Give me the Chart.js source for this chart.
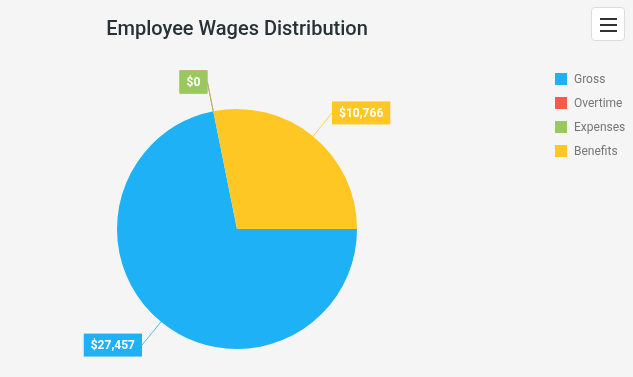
<!DOCTYPE html>
<html lang="en">
<head>
  <meta charset="UTF-8" />
  <title>Employee Wages Distribution</title>
  <script src="https://cdn.jsdelivr.net/npm/chart.js"></script>
  <style>
    body {
      margin: 0;
      padding: 0;
      background-color: #f5f5f5;
      font-family: Roboto, Arial, sans-serif;
    }

    .wrap {
      position: relative;
      width: 633px;
      height: 377px;
      overflow: hidden;
    }

    .title {
      position: absolute;
      left: 0;
      width: 474px;
      top: 14px;
      text-align: center;
      font-size: 20px;
      font-weight: 500;
      color: #263238;
      line-height: 28px;
    }

    .menu-btn {
      position: absolute;
      left: 591px;
      top: 7px;
      width: 34px;
      height: 34px;
      background: #fff;
      border: 1px solid #dcdcdc;
      border-radius: 4px;
      box-sizing: border-box;
    }

    .menu-btn span {
      position: absolute;
      left: 8px;
      width: 17px;
      height: 2px;
      background: #333;
    }

    .legend {
      position: absolute;
      left: 555px;
      top: 73px;
      font-size: 12px;
      color: #777;
    }

    .legend-item {
      display: flex;
      align-items: center;
      height: 12px;
      margin-bottom: 12px;
    }

    .legend-item i {
      display: inline-block;
      width: 12px;
      height: 12px;
      margin-right: 7px;
    }

    canvas {
      position: absolute;
      left: 0;
      top: 0;
    }
  </style>
</head>
<body>
  <div class="wrap">
    <canvas id="wagesChart" width="633" height="377"></canvas>
    <div class="title">Employee Wages Distribution</div>
    <div class="menu-btn"><span style="top:10px"></span><span style="top:16px"></span><span style="top:22px"></span></div>
    <div class="legend" id="legend"></div>
  </div>

  <script>
    const categories = ['Gross', 'Overtime', 'Expenses', 'Benefits'];
    const wages = [27457, 0, 0, 10766];
    const colors = ['#1eb1f6', '#f65a4b', '#99c95c', '#ffc724'];

    // legend built from the same arrays
    const legendEl = document.getElementById('legend');
    categories.forEach((name, i) => {
      const row = document.createElement('div');
      row.className = 'legend-item';
      row.innerHTML = '<i style="background:' + colors[i] + '"></i>' + name;
      legendEl.appendChild(row);
    });

    const fmt = v => '$' + v.toLocaleString('en-US');

    // boxed value labels with a leader line
    const boxLabels = {
      id: 'boxLabels',
      afterDatasetsDraw(chart) {
        const ctx = chart.ctx;
        const meta = chart.getDatasetMeta(0);
        ctx.save();
        ctx.font = 'bold 12px Roboto, Arial, sans-serif';
        ctx.textBaseline = 'middle';
        ctx.textAlign = 'center';
        meta.data.forEach((arc, i) => {
          const mid = (arc.startAngle + arc.endAngle) / 2;
          const r = arc.outerRadius;
          const x0 = arc.x + Math.cos(mid) * r;
          const y0 = arc.y + Math.sin(mid) * r;
          const x1 = arc.x + Math.cos(mid) * (r + 30);
          const y1 = arc.y + Math.sin(mid) * (r + 30);
          const text = fmt(wages[i]);
          const w = ctx.measureText(text).width + 14;
          const h = 23;
          const right = Math.cos(mid) >= 0;
          const bx = right ? x1 : x1 - w;
          const by = y1 - h / 2;

          ctx.strokeStyle = colors[i];
          ctx.globalAlpha = 0.8;
          ctx.lineWidth = 1;
          ctx.beginPath();
          ctx.moveTo(x0, y0);
          ctx.lineTo(x1, y1);
          ctx.stroke();
          ctx.globalAlpha = 1;

          ctx.fillStyle = colors[i];
          ctx.fillRect(bx, by, w, h);
          ctx.fillStyle = '#fff';
          ctx.fillText(text, bx + w / 2, y1 + 1);
        });
        ctx.restore();
      }
    };

    const ctx = document.getElementById('wagesChart').getContext('2d');
    const chart = new Chart(ctx, {
      type: 'pie',
      data: {
        labels: categories,
        datasets: [{
          data: wages,
          backgroundColor: colors,
          borderWidth: 0
        }]
      },
      options: {
        responsive: false,
        animation: false,
        rotation: 90,
        layout: {
          padding: { left: 117, right: 276, top: 109, bottom: 28 }
        },
        plugins: {
          legend: { display: false },
          tooltip: { enabled: false }
        }
      },
      plugins: [boxLabels]
    });
  </script>
</body>
</html>
